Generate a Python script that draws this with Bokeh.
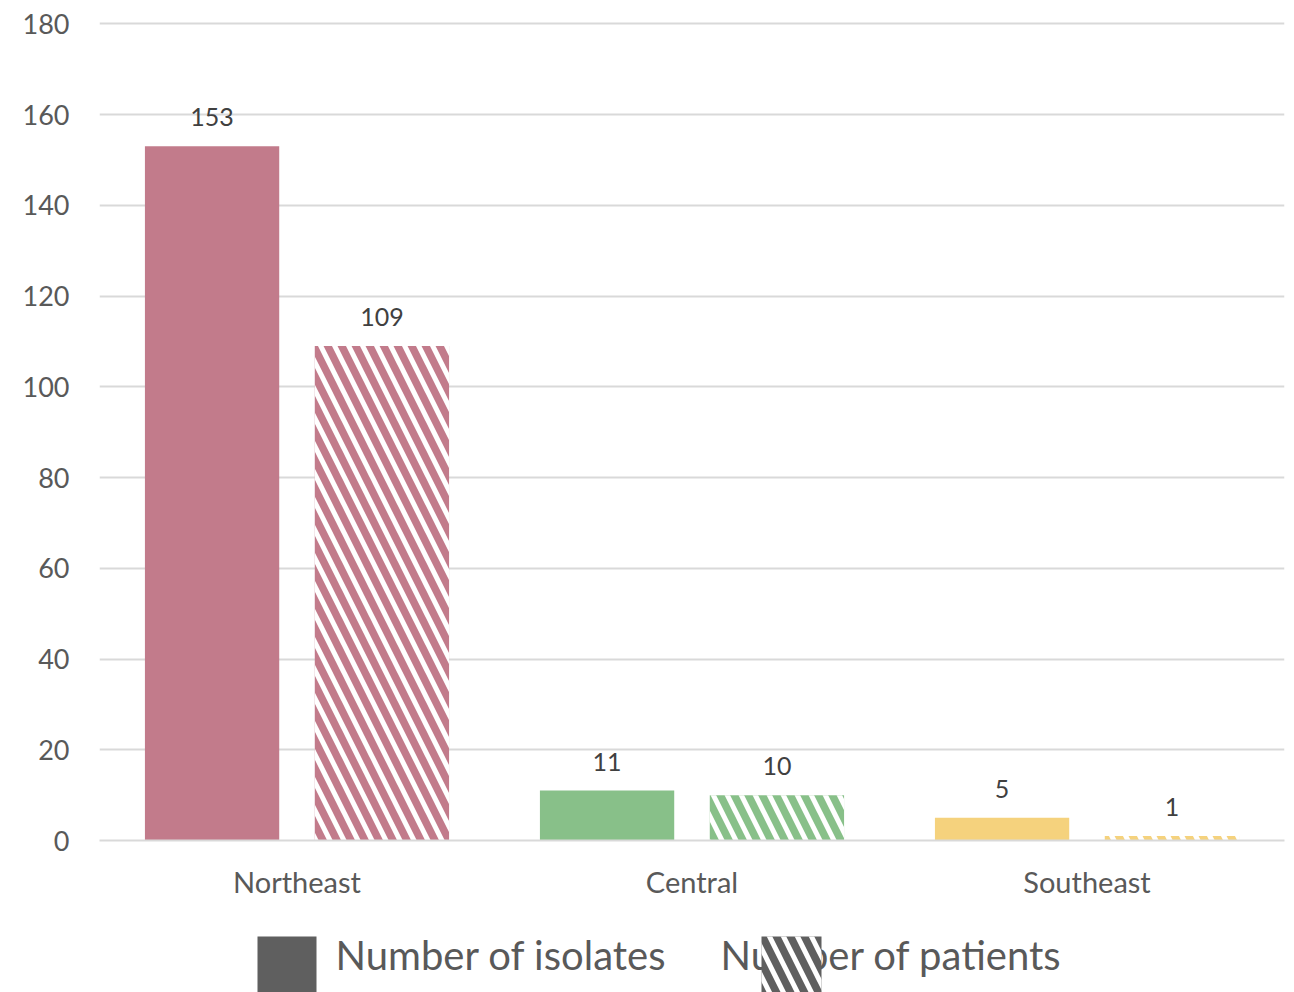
from bokeh.plotting import figure
from bokeh.models import FactorRange, Range1d, ColumnDataSource, LabelSet, FixedTicker
from bokeh.transform import dodge
from bokeh.layouts import column
from bokeh.core.properties import value
from bokeh.embed import file_html
from bokeh.resources import INLINE

# ---- data ----
regions = ["Northeast", "Central", "Southeast"]
isolates = [153, 11, 5]
patients = [109, 10, 1]
region_colors = ["#C27B8B", "#88C089", "#F5D27D"]
series_names = ["Number of isolates", "Number of patients"]
y_ticks = [0, 20, 40, 60, 80, 100, 120, 140, 160, 180]

FONT = "Lato"
AXIS_TXT = "#595959"
LBL_TXT = "#404040"
GRID = "#D9D9D9"
LEGEND_GRAY = "#5F5F5F"

src = ColumnDataSource(dict(
    region=regions,
    isolates=isolates,
    patients=patients,
    color=region_colors,
    iso_lbl=[str(v) for v in isolates],
    pat_lbl=[str(v) for v in patients],
))

p = figure(
    x_range=FactorRange(*regions, range_padding=0),
    y_range=Range1d(0, 180.5),
    width=1294, height=925,
    output_backend="svg", toolbar_location=None,
    min_border_left=99, min_border_right=10,
    min_border_top=21, min_border_bottom=85,
)
p.outline_line_color = None
p.background_fill_color = "white"
p.border_fill_color = "white"

OFF = 0.215
BW = 0.34
HATCH = dict(hatch_pattern="left_diagonal_line", hatch_color="white",
             hatch_weight=5, hatch_scale=28, hatch_alpha=1.0)

p.vbar(x=dodge("region", -OFF, range=p.x_range), top="isolates", width=BW,
       source=src, fill_color="color", line_color=None)
p.vbar(x=dodge("region", OFF, range=p.x_range), top="patients", width=BW,
       source=src, fill_color="color", line_color=None, **HATCH)

for xo, col, lbl in [(-OFF, "isolates", "iso_lbl"), (OFF, "patients", "pat_lbl")]:
    ls = LabelSet(x=dodge("region", xo, range=p.x_range), y=col, text=lbl,
                  source=src, y_offset=20, text_align="center",
                  text_baseline="bottom", text_font=value(FONT),
                  text_font_size="25px", text_color=LBL_TXT)
    p.add_layout(ls)

# axes
p.yaxis.ticker = FixedTicker(ticks=y_ticks)
p.yaxis.axis_line_color = None
p.yaxis.major_tick_line_color = None
p.yaxis.minor_tick_line_color = None
p.yaxis.major_label_standoff = 24
p.yaxis.major_label_text_font = FONT
p.yaxis.major_label_text_font_size = "27px"
p.yaxis.major_label_text_color = AXIS_TXT

p.xaxis.axis_line_color = GRID
p.xaxis.axis_line_width = 2
p.xaxis.major_tick_line_color = None
p.xaxis.minor_tick_line_color = None
p.xaxis.major_label_standoff = 17
p.xaxis.major_label_text_font = FONT
p.xaxis.major_label_text_font_size = "29px"
p.xaxis.major_label_text_color = AXIS_TXT

p.xgrid.grid_line_color = None
p.ygrid.grid_line_color = GRID
p.ygrid.grid_line_width = 2

# ---- legend strip (pixel coordinates of the page) ----
lg = figure(width=1294, height=67, x_range=Range1d(99, 1284), y_range=Range1d(0, 67),
            output_backend="svg", toolbar_location=None,
            min_border_left=99, min_border_right=10, min_border_top=0, min_border_bottom=0)
lg.axis.visible = False
lg.grid.visible = False
lg.outline_line_color = None

# text first, then swatches (second swatch overlaps its text as in the reference)
lg.text(x=[335, 720], y=[38, 38], text=series_names, text_font=value(FONT),
        text_font_size="40px", text_color=AXIS_TXT, text_baseline="middle",
        text_align="left")
lg.quad(left=[257], right=[316], top=[56], bottom=[-5],
        fill_color=LEGEND_GRAY, line_color=None)
lg.quad(left=[761], right=[821], top=[56], bottom=[-5],
        fill_color=LEGEND_GRAY, line_color=None, **HATCH)

layout = column(p, lg, spacing=0)
open("out.html", "w").write(file_html(layout, INLINE))
